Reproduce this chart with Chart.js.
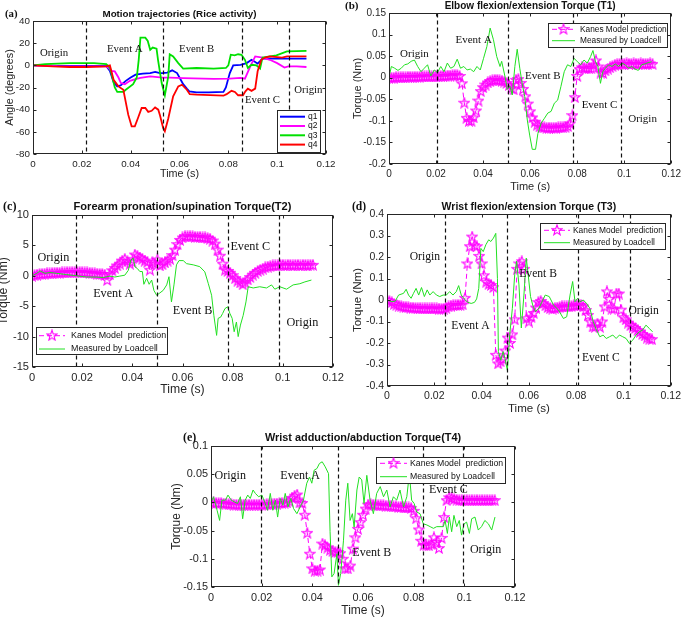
<!DOCTYPE html>
<html>
<head>
<meta charset="utf-8">
<script src="https://cdn.jsdelivr.net/npm/chart.js@4.4.1/dist/chart.umd.min.js"></script>
<style>
  body { margin: 0; background: #fff; }
  #wrap { position: relative; width: 685px; height: 617px; overflow: hidden; }
  #wrap canvas { position: absolute; left: 0; top: 0; }
</style>
</head>
<body>
<div id="wrap">
  <canvas id="chartA" width="685" height="617"></canvas>
  <canvas id="chartB" width="685" height="617"></canvas>
  <canvas id="chartC" width="685" height="617"></canvas>
  <canvas id="chartD" width="685" height="617"></canvas>
  <canvas id="chartE" width="685" height="617"></canvas>
</div>
<script>
// ---- data (times in ms) ----
var xTickValues = [0, 0.02, 0.04, 0.06, 0.08, 0.1, 0.12];
var xTickLabels = ['0', '0.02', '0.04', '0.06', '0.08', '0.1', '0.12'];

var yTicksA = [-80, -60, -40, -20, 0, 20, 40];
var yTickLabelsA = ['-80', '-60', '-40', '-20', '0', '20', '40'];
var yTicksB = [-0.2, -0.15, -0.1, -0.05, 0, 0.05, 0.1, 0.15];
var yTickLabelsB = ['-0.2', '-0.15', '-0.1', '-0.05', '0', '0.05', '0.1', '0.15'];
var yTicksC = [-15, -10, -5, 0, 5, 10];
var yTickLabelsC = ['-15', '-10', '-5', '0', '5', '10'];
var yTicksD = [-0.4, -0.3, -0.2, -0.1, 0, 0.1, 0.2, 0.3, 0.4];
var yTickLabelsD = ['-0.4', '-0.3', '-0.2', '-0.1', '0', '0.1', '0.2', '0.3', '0.4'];
var yTicksE = [-0.15, -0.1, -0.05, 0, 0.05, 0.1];
var yTickLabelsE = ['-0.15', '-0.1', '-0.05', '0', '0.05', '0.1'];

// event boundaries (s)
var eventTimesA = [0.0217, 0.0533, 0.0857, 0.105];
var eventTimesB = [0.0202, 0.0508, 0.0784, 0.0985];
var eventTimesC = [0.0175, 0.0498, 0.078, 0.0983];
var eventTimesD = [0.0244, 0.0509, 0.0809, 0.1029];
var eventTimesE = [0.0197, 0.0503, 0.0836, 0.0996];

// (a) joint angles
var q1Time = [0,10,20,30,31.5,33,34.5,36,38,40,42,45,48,50,52,53,55,57,59,60.5,61.5,63,64,67,72,78,79,80.6,82,85,87.5,89.5,91,92,94,97,112];
var q1 = [0,-0.5,-0.5,-0.5,-5,-15,-19,-18,-14,-11,-8.4,-7.5,-7,-6,-7,-7,-6.5,-4.5,-7,-13,-17,-21,-23.5,-24.4,-24.4,-24,-20,-7,0,0.5,2,5,3,1.5,6,6,6];
var q2Time = [0,10,20,30,31,32,33.5,35,36,37.6,39.7,42,44,48,53,56,61.5,74,80.6,85,86.8,89,91,94,97,100,103,104.5,108,112];
var q2 = [0,-0.8,-1,-1,-2.4,-5,-5.5,-11,-16,-17,-14,-12.5,-11.4,-10,-11,-11,-11.5,-12.3,-12,-11.4,-12,-1,8,7,5,2,-2,-1,-1,-1.5];
var q3Time = [0,5,15,25,30,31.5,33.5,34.5,37,38,41,42.5,43.3,44,46,47,48,49,50.6,51.2,52.7,54,55.4,56,57.4,59.5,61.5,67,74,79,80,81,82.6,84,85.4,86.8,88,89.5,91.5,93,94,99.7,104,112];
var q3 = [0,1,2,2,1,-2,-20,-24,-24,-22,-17,-11,5,25,25,22,14,16,15,5,-16,-27,-10,10,8,2,-3,-2.4,-3,-2.4,0,9.6,9,10,9.5,5,-2.4,0.5,0,-3,7,9,12.6,13];
var q4Time = [0,8,15,22,30,31.5,33,35,37,39,40.4,41.7,43,44.5,46,47.2,48.6,50,51.3,52,53.3,54,55.4,57.4,59.5,61,63,64.2,67,78,79.3,81.3,82.7,84,86,87,88,89.5,91,92,93.5,95,97,102,104,112];
var q4 = [0,-1,-1.5,-1.5,-1,0,-13,-19,-22,-44.5,-55,-55,-47.5,-38.5,-38.5,-42,-41,-38,-40,-45,-56.5,-59.5,-48,-28,-19,-17.5,-22,-26,-26.5,-27.4,-26,-23,-24,-27,-27,-23.5,-21,-23,-21,-5.4,5,7,8,7,8,8];

// Kane model prediction, one sample per ms
var kaneTime = [0,1,2,3,4,5,6,7,8,9,10,11,12,13,14,15,16,17,18,19,20,21,22,23,24,25,26,27,28,29,
  30,31,32,33,34,35,36,37,38,39,40,41,42,43,44,45,46,47,48,49,50,51,52,53,54,55,56,57,58,59,
  60,61,62,63,64,65,66,67,68,69,70,71,72,73,74,75,76,77,78,79,80,81,82,83,84,85,86,87,88,89,
  90,91,92,93,94,95,96,97,98,99,100,101,102,103,104,105,106,107,108,109,110,111,112];

var kaneB = [0.000,0.000,0.000,0.001,0.001,0.001,0.001,0.001,0.002,0.002,
  0.002,0.002,0.002,0.002,0.003,0.003,0.003,0.003,0.003,0.003,
  0.003,0.003,0.004,0.004,0.004,0.005,0.005,0.006,0.006,0.006,
  0.004,-0.013,-0.058,-0.093,-0.100,-0.100,-0.092,-0.076,-0.053,-0.031,
  -0.022,-0.016,-0.011,-0.008,-0.006,-0.005,-0.005,-0.006,-0.007,-0.009,
  -0.012,-0.017,-0.024,-0.027,-0.005,-0.003,-0.012,-0.026,-0.043,-0.060,
  -0.078,-0.092,-0.102,-0.109,-0.113,-0.115,-0.115,-0.116,-0.116,-0.116,
  -0.116,-0.116,-0.115,-0.115,-0.115,-0.114,-0.112,-0.106,-0.087,-0.045,
  0.004,0.020,0.024,0.023,0.022,0.022,0.022,0.030,0.040,0.026,
  0.012,0.011,0.017,0.021,0.024,0.027,0.030,0.031,0.032,0.032,
  0.032,0.033,0.032,0.032,0.033,0.032,0.032,0.033,0.032,0.032,
  0.032,0.033,0.032];
var kaneC = [0.0,0.1,0.2,0.3,0.3,0.35,0.4,0.4,0.45,0.5,
  0.5,0.5,0.55,0.55,0.6,0.6,0.6,0.6,0.6,0.6,
  0.6,0.55,0.55,0.5,0.45,0.4,0.35,0.3,0.3,0.2,
  -0.7,0.3,0.9,1.3,1.7,2.0,2.5,2.8,2.4,2.0,
  2.3,3.5,3.3,3.0,2.8,2.5,2.3,1.0,2.2,2.0,
  2.7,1.7,1.9,2.2,2.5,2.8,3.4,4.3,5.2,5.9,
  6.3,6.5,6.5,6.5,6.5,6.4,6.4,6.4,6.3,6.3,
  6.2,6.1,5.8,5.3,4.3,3.3,2.0,1.0,0.8,0.5,
  0.1,-0.4,-0.8,-1.1,-1.4,-1.1,-0.6,-0.2,0.2,0.5,
  0.8,1.0,1.2,1.4,1.5,1.6,1.7,1.7,1.7,1.8,
  1.8,1.7,1.8,1.8,1.7,1.8,1.8,1.7,1.8,1.8,
  1.7,1.8,1.8];
var kaneD = [0.000,-0.005,-0.010,-0.018,-0.022,-0.026,-0.029,-0.031,-0.033,-0.034,
  -0.035,-0.036,-0.037,-0.038,-0.038,-0.039,-0.039,-0.039,-0.039,-0.039,
  -0.039,-0.039,-0.040,-0.041,-0.040,-0.036,-0.030,-0.026,-0.024,-0.023,
  -0.023,-0.023,-0.020,0.010,0.170,0.250,0.295,0.255,0.250,0.205,
  0.170,0.115,0.085,0.075,0.070,0.060,-0.255,-0.295,-0.285,-0.275,
  -0.235,-0.175,-0.200,-0.160,-0.090,0.145,0.170,0.180,0.145,-0.085,
  -0.100,-0.078,-0.060,-0.035,-0.010,-0.005,-0.015,-0.025,-0.033,-0.038,
  -0.040,-0.038,-0.035,-0.033,-0.030,-0.030,-0.030,-0.030,-0.028,-0.025,
  -0.025,-0.024,-0.023,-0.030,-0.047,-0.070,-0.100,-0.123,-0.125,-0.110,
  -0.125,-0.100,-0.030,0.040,0.005,-0.040,-0.040,0.030,0.030,-0.045,
  -0.080,-0.090,-0.105,-0.117,-0.125,-0.130,-0.140,-0.148,-0.158,-0.165,
  -0.175,-0.180,-0.182];
var kaneE = [0.000,0.000,-0.001,-0.001,-0.001,-0.002,-0.002,-0.003,-0.003,-0.004,
  -0.004,-0.004,-0.004,-0.004,-0.004,-0.004,-0.004,-0.004,-0.004,-0.004,
  -0.004,-0.004,-0.003,-0.003,-0.003,-0.002,-0.002,-0.001,-0.001,-0.001,
  0.000,0.002,0.008,0.012,0.014,0.000,-0.001,-0.022,-0.054,-0.091,
  -0.117,-0.121,-0.121,-0.119,-0.073,-0.076,-0.080,-0.084,-0.086,-0.088,
  -0.088,-0.090,-0.100,-0.117,-0.117,-0.112,-0.082,-0.062,-0.047,-0.035,
  -0.022,-0.011,-0.004,-0.003,-0.004,-0.004,-0.005,-0.005,-0.005,-0.006,
  -0.006,-0.006,-0.007,-0.007,-0.008,-0.008,-0.009,-0.009,-0.009,-0.010,
  -0.015,-0.028,-0.048,-0.068,-0.075,-0.076,-0.076,-0.074,-0.062,-0.070,
  -0.081,-0.063,-0.026,0.004,0.009,0.008,0.006,0.005,0.004,0.004,
  0.004,0.004,0.004,0.004,0.004,0.004,0.004,0.004,0.004,0.004,
  0.004,0.004,0.004];

// load cell measurements
var cellTimeB = [0,1,2.4,3.8,5.2,6.6,8,9.4,10.8,12.2,13.6,15,16.4,17.8,19.2,20.6,22,23.4,24.8,26.2,
  27.6,29,30.4,31.8,33.2,34.6,36,37.4,38.8,40.2,41.6,43,44.4,45.8,47.2,47.9,49.3,50.3,51.4,52.4,
  53.5,54.5,55.6,56.6,57.7,58.8,59.8,60.9,62.3,63.3,64.7,66.1,67.5,68.9,70.3,71.7,73.1,74.5,75.9,77.3,
  78.7,80.1,81.5,82.9,84.3,85.7,86.7,87.8,88.8,89.9,90.9,92,93.4,94.8,96.2,97.6,99,100.4,101.8,103.2,
  104.6,106,107.4,108.8,110.2,111.6];
var cellB = [0.001,0.026,0.022,0.017,0.022,0.030,0.032,0.038,0.041,0.026,0.014,0.022,0.030,0.004,0.018,0.012,0.026,0.014,0.034,0.022,
  0.026,0.043,0.022,0.026,0.018,0.020,0.014,0.026,0.018,0.045,0.072,0.115,0.088,0.049,0.026,0.038,0.003,-0.027,-0.020,-0.040,
  0.026,0.066,0.022,-0.013,-0.044,-0.098,-0.133,-0.166,-0.166,-0.129,-0.105,-0.094,-0.082,-0.078,-0.059,-0.052,-0.020,0.014,0.030,0.026,
  0.045,0.037,0.030,0.041,0.034,0.049,0.063,0.037,0.026,-0.013,0.014,0.022,0.030,0.026,0.032,0.026,0.034,0.030,0.022,0.026,
  0.020,0.017,0.030,0.032,0.035,0.037];
var cellTimeC = [0,1.9,3.2,5.2,7.2,9.8,13.8,17.8,21.8,25.8,28.4,31,33,35,37,38.4,39.4,40.4,41,42,
  43,44,44.6,45.7,46.7,47.7,48.6,49.7,50.7,52.3,53.7,54.6,55.6,56.6,57.6,58.6,60.3,61.6,64.3,66.9,
  68.9,70.3,71.6,72.5,73.6,74.2,75.2,76,76.9,78,78.9,79.8,80.6,81.5,82.2,83.1,84.2,85.3,86.2,88.2,
  90.8,93.5,95.5,96.8,98.8,101.5,104.1,106.8,108.8,111.4];
var cellC = [0,0.4,0.8,0.4,0.55,0.4,0.2,0,-0.2,-0.2,-0.3,-0.05,-0.2,-0.05,0.1,0.9,2.6,2.9,1.5,1.2,
  0.7,0.7,-1.4,-0.4,-1.4,-0.7,-2.4,-3.2,-2.9,-2.4,-1.5,-0.15,-4.3,-1.5,1.8,2.5,2.5,2.0,1.8,1.5,
  0.65,-1.3,-3.2,-6.5,-9.8,-7.0,-6.8,-6.2,-5.4,-5.1,-6.2,-7.0,-9.2,-7.6,-10.0,-8.1,-6.5,-4.3,-1.8,-2.0,
  -1.8,-2.0,-1.5,-2.2,-1.8,-2.2,-1.5,-1.3,-1.0,-0.7];
var cellTimeD = [0,2.1,3.5,4.9,7,8.1,9.1,10.2,11.2,12.3,13.4,14.6,15.8,17,18.1,19.5,20.9,22.3,23.7,25.1,
  26.5,27.9,29.3,30.3,31.4,32.8,34.2,35.6,37,37.9,38.8,39.7,40.7,41.8,43,43.9,45,46,46.7,47.1,
  48.1,49.1,49.9,50.9,51.9,53,54,54.8,55.8,56.8,57.9,58.9,59.7,60.7,61.6,62.8,64.2,65.6,66.9,68.6,
  70.4,72.5,74.6,76,77.4,78.5,79.5,80.6,81.6,83,84.4,85.8,87.2,88.6,90,91.4,92.7,94.1,95.5,96.9,
  98.3,99.7,101.1,102.5,103.9,105.3,106.7,108.1,109.5,110.9,112.3];
var cellD = [0,-0.008,-0.005,0.023,0.031,0.050,0.023,0.008,0.031,0.054,0.023,0.058,0.016,0.047,0.023,0.039,0.023,0.016,0.023,0.023,
  0.039,0.023,0.039,0.067,0.023,0.003,-0.011,-0.016,-0.011,0.005,0.054,0.240,0.225,0.257,0.280,0.272,0.288,0.310,0.100,-0.240,
  -0.280,-0.240,-0.272,-0.327,-0.160,-0.040,0.117,0.180,0.070,-0.130,0.023,0.195,0.117,0.016,-0.023,-0.054,-0.039,-0.008,0.023,0.016,
  -0.023,-0.047,-0.086,-0.078,0.023,0.086,-0.008,0.008,-0.008,0.000,-0.016,-0.039,-0.101,-0.140,-0.171,-0.163,-0.179,-0.171,-0.163,-0.179,
  -0.163,-0.171,-0.179,-0.202,-0.187,-0.163,-0.148,-0.140,-0.117,-0.132,-0.148];
var cellTimeE = [0,1,2.4,3.4,4.3,5.7,6.7,8,9.2,10.5,11.6,12.5,13.5,14.5,15.5,16.6,17.5,18.8,20.1,21.4,
  22.3,23.4,24.4,25.4,26.3,27.3,28.4,29.3,30.4,31.5,32.6,33.9,35.2,36.5,37.8,38.9,39.8,40.7,41.8,42.8,
  43.9,45.1,46.4,47,47.7,48.6,49.7,50.3,51.2,52.3,53.2,54,54.9,55.8,56.5,57.6,58.5,59.5,60.4,61.5,
  62.8,64.1,65.4,66.8,68.1,69.4,70.7,72,73.3,74.6,76,77.3,78.3,79.2,80.2,81.2,82.5,83.8,85.2,86.5,
  87.8,89.1,90.4,91.7,92.4,93.3,94.1,95,95.9,97,98,98.9,99.9,100.9,102,102.9,104.2,105.5,106.8,108.1,
  109.5,110.8,112.1];
var cellE = [0,0.010,-0.014,-0.032,0.004,0.004,0.013,0.004,0.001,-0.002,0.010,-0.029,0.004,0.013,0.007,0.022,0.016,0.010,0.013,-0.002,
  -0.014,0.016,-0.014,0.004,-0.026,0.007,-0.005,0.016,-0.008,0.007,-0.011,-0.020,-0.008,0.004,0.034,0.045,0.034,0.057,0.060,0.069,
  0.072,0.063,0.051,-0.052,-0.132,-0.126,-0.091,-0.147,-0.126,-0.067,0.004,0.034,-0.032,-0.020,-0.044,0.022,0.045,0.040,-0.002,0.048,
  0.004,-0.020,0.016,0.028,0.010,0.022,-0.008,0.010,0.004,0.022,-0.008,0.010,0.051,0.004,-0.002,-0.017,-0.020,-0.038,-0.040,-0.043,
  -0.046,-0.043,-0.043,-0.043,-0.032,-0.055,-0.026,-0.052,-0.023,-0.043,-0.032,-0.058,-0.038,-0.035,-0.055,-0.029,-0.026,-0.049,-0.043,-0.032,
  -0.038,-0.049,-0.026];

// ---- drawing ----
var PAGE_H = 617;
var KANE_COLOR = '#ff00ff';
var CELL_COLOR = '#22e022';
var SANS = '"Liberation Sans", Arial, sans-serif';
var SERIF = '"Liberation Serif", "Times New Roman", serif';

Chart.defaults.font.family = SANS;
Chart.defaults.font.size = 10;
Chart.defaults.color = '#262626';

function pts(ts, ys) {
  var out = [];
  for (var i = 0; i < Math.min(ts.length, ys.length); i++) out.push({x: ts[i] / 1000, y: ys[i]});
  return out;
}

// MATLAB-like pentagram marker
function makeStar(color) {
  var c = document.createElement('canvas');
  c.width = 12; c.height = 12;
  var g = c.getContext('2d');
  g.strokeStyle = color;
  g.lineWidth = 1.1;
  g.beginPath();
  for (var k = 0; k < 10; k++) {
    var r = k % 2 === 0 ? 5.4 : 2.2;
    var a = -Math.PI / 2 + k * Math.PI / 5;
    var px = 6 + r * Math.cos(a), py = 6.4 + r * Math.sin(a);
    if (k === 0) g.moveTo(px, py); else g.lineTo(px, py);
  }
  g.closePath();
  g.stroke();
  return c;
}
var starMark = makeStar(KANE_COLOR);

function kaneSet(ys) {
  return {label: 'Kanes Model prediction', data: pts(kaneTime, ys), borderColor: KANE_COLOR, borderWidth: 1,
    borderDash: [5, 3], pointStyle: starMark, pointRadius: 5, order: 2};
}
function cellSet(ts, ys) {
  return {label: 'Measured by Loadcell', data: pts(ts, ys), borderColor: CELL_COLOR, borderWidth: 1,
    pointRadius: 0, order: 1};
}
function qSet(name, ts, ys, color, order) {
  return {label: name, data: pts(ts, ys), borderColor: color, borderWidth: 1.8, pointRadius: 0, order: order};
}

var decor = {
  id: 'decor',
  afterDatasetsDraw: function (chart, args, o) {
    var ctx = chart.ctx, a = chart.chartArea, x = chart.scales.x, y = chart.scales.y;
    var L = Math.round(a.left) + 0.5, R = Math.round(a.right) - 0.5;
    var T = Math.round(a.top) + 0.5, B = Math.round(a.bottom) - 0.5;
    ctx.save();
    ctx.strokeStyle = '#111';
    ctx.lineWidth = 1.2;
    ctx.setLineDash([4, 3]);
    o.events.forEach(function (t) {
      var px = Math.round(x.getPixelForValue(t)) + 0.5;
      ctx.beginPath(); ctx.moveTo(px, T); ctx.lineTo(px, B); ctx.stroke();
    });
    ctx.setLineDash([]);
    // box and inward ticks
    ctx.strokeStyle = '#262626';
    ctx.lineWidth = 1;
    ctx.strokeRect(L, T, R - L, B - T);
    ctx.beginPath();
    x.ticks.forEach(function (tk) {
      var px = Math.round(x.getPixelForValue(tk.value)) + 0.5;
      ctx.moveTo(px, B); ctx.lineTo(px, B - 3);
      ctx.moveTo(px, T); ctx.lineTo(px, T + 3);
    });
    y.ticks.forEach(function (tk) {
      var py = Math.round(y.getPixelForValue(tk.value)) + 0.5;
      ctx.moveTo(L, py); ctx.lineTo(L + 3, py);
      ctx.moveTo(R, py); ctx.lineTo(R - 3, py);
    });
    ctx.stroke();
    // phase labels
    ctx.fillStyle = '#111';
    ctx.font = (11 * o.fs).toFixed(1) + 'px ' + SERIF;
    ctx.textAlign = 'center';
    ctx.textBaseline = 'middle';
    o.labels.forEach(function (lb) {
      ctx.fillText(lb.text, x.getPixelForValue(lb.t), y.getPixelForValue(lb.v));
    });
    ctx.restore();
  },
  afterDraw: function (chart, args, o) {
    var ctx = chart.ctx, a = chart.chartArea;
    ctx.save();
    ctx.fillStyle = '#111';
    ctx.textBaseline = 'middle';
    ctx.textAlign = 'center';
    ctx.font = 'bold ' + (10 * o.fs).toFixed(1) + 'px ' + SANS;
    ctx.fillText(o.title, (a.left + a.right) / 2, o.titleY);
    ctx.textAlign = 'left';
    ctx.font = 'bold ' + (11 * o.fs).toFixed(1) + 'px ' + SERIF;
    ctx.fillText(o.letter, o.letterX, o.titleY);
    // legend
    var lg = o.legend, bx = lg.box;
    ctx.fillStyle = '#fff';
    ctx.fillRect(bx[0], bx[1], bx[2] - bx[0], bx[3] - bx[1]);
    ctx.strokeStyle = '#262626';
    ctx.lineWidth = 1;
    ctx.strokeRect(bx[0] + 0.5, bx[1] + 0.5, bx[2] - bx[0], bx[3] - bx[1]);
    ctx.font = lg.font + 'px ' + SANS;
    lg.rows.forEach(function (r) {
      ctx.strokeStyle = r.color;
      ctx.lineWidth = r.width;
      ctx.setLineDash(r.dash || []);
      ctx.beginPath(); ctx.moveTo(lg.lineX[0], r.y); ctx.lineTo(lg.lineX[1], r.y); ctx.stroke();
      ctx.setLineDash([]);
      if (r.star) ctx.drawImage(starMark, (lg.lineX[0] + lg.lineX[1]) / 2 - 6, r.y - 6.4);
      ctx.fillStyle = '#111';
      ctx.fillText(r.text, lg.textX, r.y);
    });
    ctx.restore();
  }
};

function kaneRows(y1, y2, text) {
  return [
    {y: y1, text: text, color: KANE_COLOR, width: 1, dash: [5, 3], star: true},
    {y: y2, text: 'Measured by Loadcell', color: CELL_COLOR, width: 1}
  ];
}

var panels = [
  {id: 'chartA', letter: '(a)', letterX: 5, title: 'Motion trajectories (Rice activity)', titleY: 14, fs: 0.98,
   plot: {left: 33, right: 326, top: 21, bottom: 154}, yMin: -80, yMax: 40, yTicks: yTicksA, yLabels: yTickLabelsA,
   yTitle: 'Angle (degrees)', yTitleX: 10, xTitleY: 174, events: eventTimesA,
   datasets: [qSet('q1', q1Time, q1, '#0000ff', 4), qSet('q2', q2Time, q2, '#ff00ff', 3),
              qSet('q3', q3Time, q3, '#00e000', 2), qSet('q4', q4Time, q4, '#ff0000', 1)],
   labels: [{text: 'Origin', t: 0.0086, v: 11}, {text: 'Event A', t: 0.0376, v: 15}, {text: 'Event B', t: 0.067, v: 15},
            {text: 'Event C', t: 0.094, v: -31}, {text: 'Origin', t: 0.1128, v: -22}],
   legend: {box: [277, 110, 320, 152], lineX: [280, 305], textX: 308, font: 8.5,
     rows: [{y: 116.7, text: 'q1', color: '#0000ff', width: 2}, {y: 126, text: 'q2', color: '#ff00ff', width: 2},
            {y: 135.3, text: 'q3', color: '#00e000', width: 2}, {y: 144.6, text: 'q4', color: '#ff0000', width: 2}]}},
  {id: 'chartB', letter: '(b)', letterX: 345, title: 'Elbow flexion/extension Torque (T1)', titleY: 6, fs: 1.0,
   plot: {left: 389, right: 675, top: 13, bottom: 164}, yMin: -0.2, yMax: 0.15, yTicks: yTicksB, yLabels: yTickLabelsB,
   yTitle: 'Torque (Nm)', yTitleX: 358, xTitleY: 187, events: eventTimesB,
   datasets: [kaneSet(kaneB), cellSet(cellTimeB, cellB)],
   labels: [{text: 'Origin', t: 0.0108, v: 0.055}, {text: 'Event A', t: 0.036, v: 0.088}, {text: 'Event B', t: 0.0654, v: 0.004},
            {text: 'Event C', t: 0.0895, v: -0.064}, {text: 'Origin', t: 0.1078, v: -0.096}],
   legend: {box: [548, 23, 667, 47], lineX: [552, 575], textX: 580, font: 8.3,
            rows: kaneRows(29.3, 40.7, 'Kanes Model prediction')}},
  {id: 'chartC', letter: '(c)', letterX: 3, title: 'Forearm pronation/supination Torque(T2)', titleY: 207, fs: 1.11,
   plot: {left: 32, right: 333, top: 215, bottom: 367}, yMin: -15, yMax: 10, yTicks: yTicksC, yLabels: yTickLabelsC,
   yTitle: 'Torque (Nm)', yTitleX: 4, xTitleY: 390, events: eventTimesC,
   datasets: [kaneSet(kaneC), cellSet(cellTimeC, cellC)],
   labels: [{text: 'Origin', t: 0.0085, v: 3.0}, {text: 'Event A', t: 0.0324, v: -3.0}, {text: 'Event B', t: 0.064, v: -5.7},
            {text: 'Event C', t: 0.087, v: 4.7}, {text: 'Origin', t: 0.1078, v: -7.7}],
   legend: {box: [36, 327, 167, 354], lineX: [39, 65], textX: 71, font: 8.9,
            rows: kaneRows(335.7, 349, 'Kanes Model  prediction')}},
  {id: 'chartD', letter: '(d)', letterX: 352, title: 'Wrist flexion/extension Torque (T3)', titleY: 207, fs: 1.05,
   plot: {left: 387, right: 673, top: 214, bottom: 386}, yMin: -0.4, yMax: 0.4, yTicks: yTicksD, yLabels: yTickLabelsD,
   yTitle: 'Torque (Nm)', yTitleX: 358, xTitleY: 409, events: eventTimesD,
   datasets: [kaneSet(kaneD), cellSet(cellTimeD, cellD)],
   labels: [{text: 'Origin', t: 0.016, v: 0.2}, {text: 'Event A', t: 0.0353, v: -0.12}, {text: 'Event B', t: 0.0639, v: 0.12},
            {text: 'Event C', t: 0.0904, v: -0.27}, {text: 'Origin', t: 0.1085, v: -0.05}],
   legend: {box: [540, 223, 665, 249], lineX: [544, 570], textX: 573, font: 8.4,
            rows: kaneRows(230.3, 242.7, 'Kanes Model  prediction')}},
  {id: 'chartE', letter: '(e)', letterX: 183, title: 'Wrist adduction/abduction Torque(T4)', titleY: 438, fs: 1.09,
   plot: {left: 211, right: 515, top: 446, bottom: 587}, yMin: -0.15, yMax: 0.1, yTicks: yTicksE, yLabels: yTickLabelsE,
   yTitle: 'Torque (Nm)', yTitleX: 177, xTitleY: 611, events: eventTimesE,
   datasets: [kaneSet(kaneE), cellSet(cellTimeE, cellE)],
   labels: [{text: 'Origin', t: 0.0076, v: 0.047}, {text: 'Event A', t: 0.0352, v: 0.047}, {text: 'Event B', t: 0.0635, v: -0.089},
            {text: 'Event C', t: 0.0937, v: 0.022}, {text: 'Origin', t: 0.1084, v: -0.085}],
   legend: {box: [376, 457, 505, 483], lineX: [380, 407], textX: 410, font: 8.7,
            rows: kaneRows(463.3, 476.7, 'Kanes Model  prediction')}}
];

panels.forEach(function (p) {
  var titleSize = 11 * p.fs;
  var half = titleSize * 0.6;
  new Chart(document.getElementById(p.id), {
    type: 'line',
    data: {datasets: p.datasets},
    options: {
      responsive: false,
      animation: false,
      events: [],
      layout: {padding: {left: 0, top: p.plot.top, right: 685 - p.plot.right, bottom: 0}},
      plugins: {
        legend: {display: false},
        tooltip: {enabled: false},
        decor: {events: p.events, labels: p.labels, legend: p.legend, title: p.title, titleY: p.titleY,
                letter: p.letter, letterX: p.letterX, fs: p.fs}
      },
      scales: {
        x: {
          type: 'linear', min: 0, max: 0.12,
          afterBuildTicks: function (s) { s.ticks = xTickValues.map(function (v) { return {value: v}; }); },
          afterFit: function (s) { s.height = PAGE_H - p.plot.bottom; },
          grid: {display: false, drawTicks: false},
          border: {display: false},
          ticks: {padding: 4, maxRotation: 0, autoSkip: false, font: {size: 10 * p.fs},
                  callback: function (v, i) { return xTickLabels[i]; }},
          title: {display: true, text: 'Time (s)', font: {size: titleSize},
                  padding: {top: 0, bottom: PAGE_H - p.xTitleY - half}}
        },
        y: {
          type: 'linear', min: p.yMin, max: p.yMax,
          afterBuildTicks: function (s) { s.ticks = p.yTicks.map(function (v) { return {value: v}; }); },
          afterFit: function (s) { s.width = p.plot.left; },
          grid: {display: false, drawTicks: false},
          border: {display: false},
          ticks: {padding: 3, autoSkip: false, font: {size: 10 * p.fs},
                  callback: function (v, i) { return p.yLabels[i]; }},
          title: {display: true, text: p.yTitle, font: {size: titleSize},
                  padding: {top: p.yTitleX - half, bottom: 0}}
        }
      }
    },
    plugins: [decor]
  });
});
</script>
</body>
</html>
